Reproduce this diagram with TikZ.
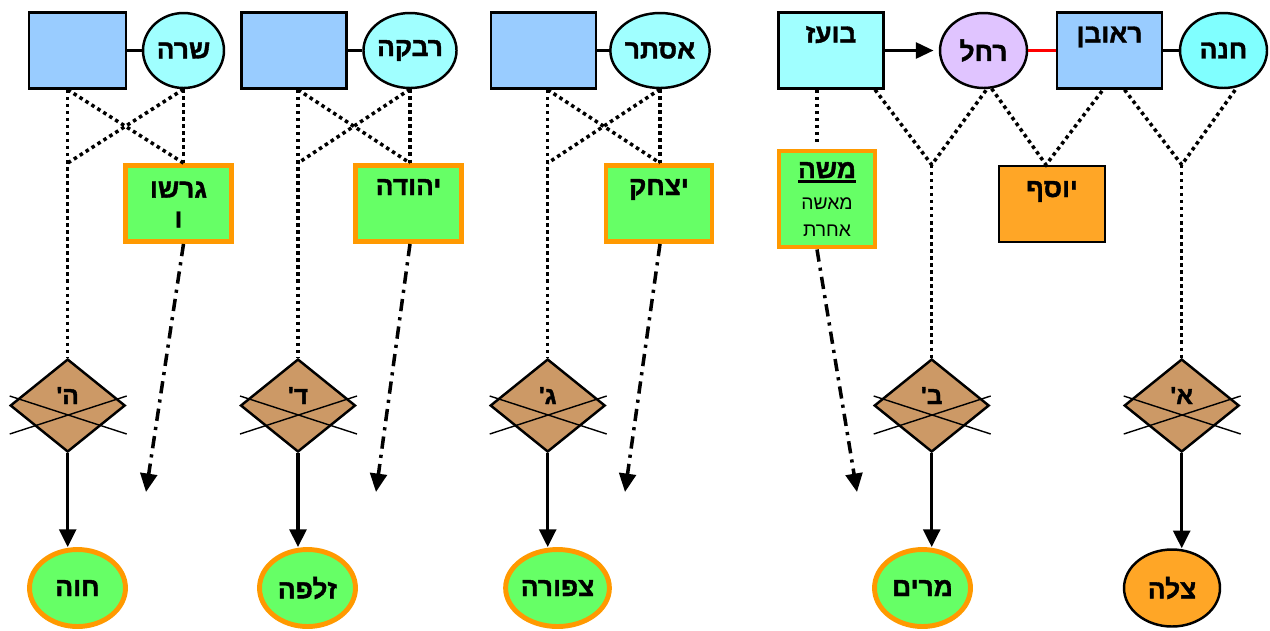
\documentclass[tikz,border=0pt]{standalone}
\usepackage{fontspec}
\setmainfont{Liberation Sans}[BoldFont={Liberation Sans Bold}]
\newfontfamily\hebfont[Script=Hebrew,BoldFont={Liberation Sans Bold},
  BoldFeatures={FakeBold=1.4}]{Liberation Sans}
\TeXXeTstate=1
\usetikzlibrary{shapes.geometric,arrows.meta}
\newcommand\heb[1]{{\hebfont\beginR#1\endR}}
\newcommand\undl[1]{\vtop{\hbox{#1}\kern1.2pt\hrule height1.5pt}}
\definecolor{manblue}{HTML}{99CCFF}
\definecolor{wifecyan}{HTML}{A0FFFF}
\definecolor{aqua}{HTML}{80FFFF}
\definecolor{lilac}{HTML}{E0C4FF}
\definecolor{kidgreen}{HTML}{66FF66}
\definecolor{rim}{HTML}{FF9900}
\definecolor{amber}{HTML}{FFA626}
\definecolor{clay}{HTML}{CC9966}

\begin{document}
\begin{tikzpicture}[x=0.02cm,y=-0.02cm,
  every node/.style={font=\fontsize{15}{17}\selectfont\bfseries},
  man/.style={rectangle,draw,line width=1.4pt,fill=manblue,inner sep=0pt,
    minimum width=2.1cm,text height=0.6cm,text depth=0.92cm},
  wife/.style={ellipse,draw,line width=1.4pt,fill=wifecyan,inner sep=0pt,
    minimum width=1.74cm,minimum height=1.5cm},
  kid/.style={rectangle,draw=rim,line width=2.8pt,fill=kidgreen,inner sep=0pt,
    minimum width=2.12cm,text height=0.59cm,text depth=0.93cm},
  gone/.style={diamond,draw,line width=1.4pt,fill=clay,inner sep=0pt,
    minimum width=2.3cm,minimum height=1.86cm,text height=0.22cm,text depth=0.28cm,
    font=\fontsize{14}{16}\selectfont\bfseries},
  heir/.style={ellipse,draw=rim,line width=2.8pt,fill=kidgreen,inner sep=0pt,
    minimum width=1.92cm,minimum height=1.54cm},
  tie/.style={line width=1.7pt},
  kin/.style={line width=2pt,dash pattern=on 2pt off 2pt},
  lost/.style={line width=2pt,dash pattern=on 7pt off 3.5pt on 1.8pt off 3.5pt,
    -{Triangle[length=10.5pt,width=9.5pt]}},
  descent/.style={line width=1.8pt,-{Triangle[length=10pt,width=9.5pt]}},
  xline/.style={line width=0.8pt}]
\useasboundingbox (0,0) rectangle (1270,630);

% couples
\node[man,minimum width=1.94cm] (r1) at (77.5,50.5) {};
\node[wife,minimum width=1.62cm] (e1) at (183.5,50.5) {\heb{שרה}};
\node[man] (r2) at (294,50.5) {};
\node[wife] (e2) at (410,50.5) {\heb{רבקה}};
\node[man] (r3) at (543.5,50.5) {};
\node[wife] (e3) at (660,50.5) {\heb{אסתר}};
\node[man,fill=wifecyan] (boaz) at (831,50.5) {\heb{בועז}};
\node[wife,fill=lilac] (rachel) at (983.5,50.5) {\heb{רחל}};
\node[man] (reuven) at (1109.5,50.5) {\heb{ראובן}};
\node[wife,fill=aqua] (hana) at (1223.5,50.5) {\heb{חנה}};

% children
\node[kid,align=center,text height=1.24cm,text depth=0.28cm] (g1) at (178.5,203.5)
  {\heb{גרשו}\\\heb{ו}};
\node[kid] (g2) at (408.5,203.5) {\heb{יהודה}};
\node[kid] (g3) at (659,203.5) {\heb{יצחק}};
\node[kid,align=center,text height=,text depth=,minimum width=1.92cm,minimum height=1.92cm]
  (moshe) at (827,199) {\undl{\heb{משה}}\\[1pt]
  {\fontsize{11}{12}\selectfont\mdseries\heb{מאשה}}\\[-2pt]
  {\fontsize{11}{12}\selectfont\mdseries\heb{אחרת}}};
\node[man,fill=amber,minimum width=2.12cm,text height=0.62cm,text depth=0.9cm]
  (yosef) at (1052,204) {\heb{יוסף}};

% divorces
\node[gone] (d5) at (67.7,405.5) {\heb{ה'}};
\node[gone] (d4) at (298,405.5) {\heb{ד'}};
\node[gone] (d3) at (547.7,405.5) {\heb{ג'}};
\node[gone] (d2) at (931.7,405.5) {\heb{ב'}};
\node[gone] (d1) at (1181.7,405.5) {\heb{א'}};

% heirs
\node[heir] (c5) at (77.5,588) {\heb{חוה}};
\node[heir] (c4) at (307.5,588) {\heb{זלפה}};
\node[heir] (c3) at (557.5,588) {\heb{צפורה}};
\node[heir] (c2) at (922.5,588) {\heb{מרים}};
\node[heir,draw=black,line width=1.4pt,fill=amber] (c1) at (1172,588) {\heb{צלה}};

\coordinate (l1) at (146,492);
\coordinate (l2) at (376,492);
\coordinate (l3) at (625,492);
\coordinate (l4) at (857,492);
\coordinate (j2) at (d2.north |- yosef.north);
\coordinate (j1) at (d1.north |- yosef.north);

% marriages
\draw[tie] (r1) -- (e1);
\draw[tie] (r2) -- (e2);
\draw[tie] (r3) -- (e3);
\draw[tie,-{Triangle[length=10pt,width=9pt]},shorten >=3pt] (boaz) -- (rachel);
\draw[tie,red] (rachel) -- (reuven);
\draw[tie] (reuven) -- (hana);

% first three families
\draw[kin] (r1.south -| d5) -- (d5.north);
\draw[kin] (e1.south) -- (e1.south |- g1.north);
\draw[kin] (r1.south -| d5) -- (e1.south |- g1.north);
\draw[kin] (e1.south) -- (d5 |- g1.north);
\draw[lost] (e1.south |- g1.south) -- (l1);
\draw[kin] (r2.south -| d4) -- (d4.north);
\draw[kin] (e2.south) -- (e2.south |- g2.north);
\draw[kin] (r2.south -| d4) -- (e2.south |- g2.north);
\draw[kin] (e2.south) -- (d4 |- g2.north);
\draw[lost] (e2.south |- g2.south) -- (l2);
\draw[kin] (r3.south -| d3) -- (d3.north);
\draw[kin] (e3.south) -- (e3.south |- g3.north);
\draw[kin] (r3.south -| d3) -- (e3.south |- g3.north);
\draw[kin] (e3.south) -- (d3 |- g3.north);
\draw[lost] (e3.south |- g3.south) -- (l3);

% last family
\draw[kin] ([shift={(-14,0)}]boaz.south) -- ([shift={(-10,-4)}]moshe.north);
\draw[lost] ([shift={(-10,0)}]moshe.south) -- (l4);
\draw[kin] ([shift={(44,0)}]boaz.south) -- (j2) -- (rachel.-85);
\draw[kin] (j2) -- (d2.north);
\draw[kin] (rachel.-78) -- ([shift={(-6,0)}]yosef.north) -- ([shift={(-6.5,0)}]reuven.south);
\draw[kin] ([shift={(15,0)}]reuven.south) -- (j1) -- (hana.-70);
\draw[kin] (j1) -- (d1.north);

% crossed out
\draw[xline] ([shift={(-58,-9.5)}]d5.center) -- ([shift={(59,28.5)}]d5.center);
\draw[xline] ([shift={(-58,28.5)}]d5.center) -- ([shift={(59,-9.5)}]d5.center);
\draw[xline] ([shift={(-58,-9.5)}]d4.center) -- ([shift={(59,28.5)}]d4.center);
\draw[xline] ([shift={(-58,28.5)}]d4.center) -- ([shift={(59,-9.5)}]d4.center);
\draw[xline] ([shift={(-58,-9.5)}]d3.center) -- ([shift={(59,28.5)}]d3.center);
\draw[xline] ([shift={(-58,28.5)}]d3.center) -- ([shift={(59,-9.5)}]d3.center);
\draw[xline] ([shift={(-58,-9.5)}]d2.center) -- ([shift={(59,28.5)}]d2.center);
\draw[xline] ([shift={(-58,28.5)}]d2.center) -- ([shift={(59,-9.5)}]d2.center);
\draw[xline] ([shift={(-58,-9.5)}]d1.center) -- ([shift={(59,28.5)}]d1.center);
\draw[xline] ([shift={(-58,28.5)}]d1.center) -- ([shift={(59,-9.5)}]d1.center);

% births
\draw[descent] (d5.south) -- (d5.south |- c5.north);
\draw[descent] (d4.south) -- (d4.south |- c4.north);
\draw[descent] (d3.south) -- (d3.south |- c3.north);
\draw[descent] (d2.south) -- (d2.south |- c2.north);
\draw[descent] (d1.south) -- (d1.south |- c1.north);
\end{tikzpicture}
\end{document}
